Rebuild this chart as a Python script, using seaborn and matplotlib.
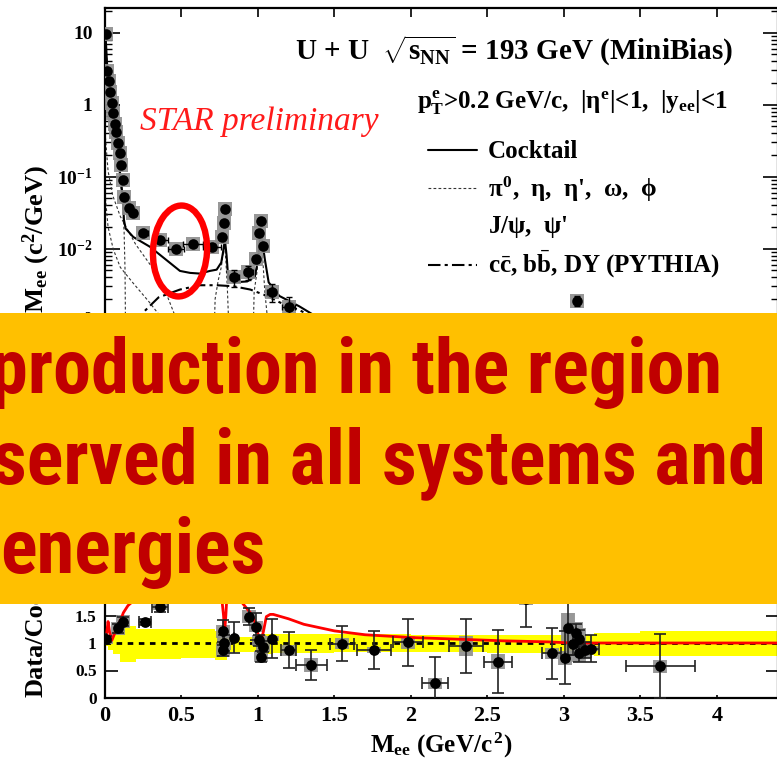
import numpy as np
import pandas as pd
import matplotlib
matplotlib.use("Agg")
import matplotlib.pyplot as plt
import seaborn as sns
from matplotlib.patches import Ellipse, Rectangle
from matplotlib.lines import Line2D
from matplotlib.ticker import FixedLocator, FixedFormatter, LogLocator, NullFormatter, MultipleLocator

# ---------------- dielectron mass spectrum (upper panel) ----------------
data_x = [0.005, 0.015, 0.025, 0.035, 0.045, 0.055, 0.065, 0.075, 0.085, 0.095,
          0.105, 0.115, 0.125, 0.155, 0.185, 0.25, 0.36, 0.465, 0.575, 0.70,
          0.765, 0.775, 0.785, 0.845, 0.937, 0.99, 1.01, 1.02, 1.035, 1.09, 1.2, 3.085]
data_y = [9.7, 2.9, 2.1, 1.5, 1.07, 0.77, 0.53, 0.41, 0.29, 0.21,
          0.147, 0.091, 0.052, 0.037, 0.031, 0.0166, 0.0131, 0.0100, 0.0117, 0.0106,
          0.0145, 0.023, 0.036, 0.0040, 0.0047, 0.0071, 0.0166, 0.0245, 0.011, 0.0025, 0.00155, 0.0019]
data_xerr = [0, 0, 0, 0, 0, 0, 0, 0, 0, 0,
             0, 0, 0, 0, 0, 0.03, 0.05, 0.05, 0.065, 0.06,
             0, 0, 0, 0.03, 0.03, 0, 0, 0, 0, 0.03, 0.04, 0]
data_yerr = [0.2, 0.06, 0.04, 0.03, 0.02, 0.015, 0.01, 0.008, 0.006, 0.004,
             0.003, 0.002, 0.0012, 0.001, 0.0008, 0.0006, 0.0006, 0.0005, 0.0006, 0.0006,
             0.0008, 0.001, 0.0015, 0.0011, 0.001, 0.0008, 0.001, 0.0012, 0.0008, 0.0007, 0.0006, 0.0003]

cocktail_x = [0.003, 0.007, 0.013, 0.025, 0.044, 0.06, 0.076, 0.09, 0.109, 0.118, 0.124, 0.135,
              0.185, 0.294, 0.403, 0.49, 0.556, 0.62, 0.686, 0.73, 0.76, 0.772, 0.784, 0.795,
              0.806, 0.84, 0.93, 0.98, 1.0, 1.012, 1.02, 1.03, 1.046, 1.07, 1.14, 1.27, 1.5,
              1.8, 2.1, 2.5, 2.9, 3.0, 3.06, 3.097, 3.13, 3.2, 3.6, 3.69, 3.8, 4.4]
cocktail_y = [9.0, 6.8, 3.8, 2.0, 1.17, 0.6, 0.32, 0.16, 0.072, 0.045, 0.025, 0.019,
              0.0145, 0.0106, 0.0069, 0.0049, 0.0046, 0.0045, 0.0049, 0.0051, 0.0064, 0.009, 0.0133, 0.008,
              0.0038, 0.0034, 0.0035, 0.0041, 0.0069, 0.013, 0.02, 0.012, 0.0069, 0.0034, 0.0022, 0.00158, 8e-4,
              4e-4, 2.2e-4, 1.1e-4, 6e-5, 6e-5, 3e-4, 1.1e-3, 2e-4, 4e-5, 2e-5, 4e-5, 1.5e-5, 4e-6]

pi0_x = [0.003, 0.01, 0.02, 0.04, 0.06, 0.08, 0.1, 0.115, 0.125, 0.131, 0.134, 0.135]
pi0_y = [8.5, 5.0, 2.4, 1.0, 0.5, 0.22, 0.085, 0.04, 0.017, 0.005, 0.0008, 1e-6]
eta_x = [0.003, 0.02, 0.05, 0.1, 0.2, 0.3, 0.4, 0.47, 0.52, 0.54, 0.547]
eta_y = [0.35, 0.12, 0.055, 0.028, 0.0115, 0.0058, 0.0024, 0.001, 3e-4, 5e-5, 1e-6]
omega_dalitz_x = [0.003, 0.02, 0.054, 0.1, 0.185, 0.29, 0.4, 0.5, 0.58, 0.63, 0.645]
omega_dalitz_y = [0.05, 0.02, 0.0098, 0.0055, 0.0033, 0.0018, 9e-4, 4.5e-4, 1.5e-4, 3e-5, 1e-6]
omega_x = [0.69, 0.72, 0.74, 0.76, 0.772, 0.782, 0.79, 0.80, 0.815, 0.84]
omega_y = [1e-5, 2e-3, 3.6e-3, 5.5e-3, 8.5e-3, 1.1e-2, 7e-3, 2.8e-3, 4e-4, 1e-5]
phi_x = [0.95, 0.975, 0.995, 1.01, 1.019, 1.03, 1.045, 1.06, 1.09]
phi_y = [1e-5, 2.5e-3, 5e-3, 1.2e-2, 1.8e-2, 8e-3, 2.5e-3, 1.2e-3, 1e-5]
jpsi_x = [2.7, 2.9, 3.0, 3.05, 3.097, 3.13, 3.2, 3.3]
jpsi_y = [1e-7, 3e-6, 2e-5, 2.5e-4, 1e-3, 1.5e-4, 5e-6, 1e-7]
psi2s_x = [3.5, 3.6, 3.686, 3.75, 3.85]
psi2s_y = [1e-7, 2e-6, 2.5e-5, 2e-6, 1e-7]
charm_x = [0.05, 0.15, 0.25, 0.35, 0.49, 0.62, 0.73, 0.84, 0.95, 1.06, 1.14, 1.27,
           1.5, 2.0, 2.5, 3.0, 3.5, 4.0, 4.4]
charm_y = [1e-4, 5e-4, 1.3e-3, 2.1e-3, 2.7e-3, 3.1e-3, 3.1e-3, 3.0e-3, 2.7e-3, 2.2e-3, 1.8e-3, 1.4e-3,
           8e-4, 3e-4, 1.2e-4, 5e-5, 2e-5, 9e-6, 5e-6]

y_tick_vals = [1e-5, 1e-4, 1e-3, 1e-2, 1e-1, 1, 10]
y_tick_text = [r"$10^{-5}$", r"$10^{-4}$", r"$10^{-3}$", r"$10^{-2}$", r"$10^{-1}$", "1", "10"]

# ---------------- data / cocktail ratio (lower panel) ----------------
ratio_x = [0.007, 0.087, 0.12, 0.26, 0.36, 0.773, 0.78, 0.77, 0.845, 0.94, 0.985, 1.01, 1.035, 1.02,
           1.09, 1.20, 1.35, 1.55, 1.76, 1.98, 2.16, 2.36, 2.57, 2.75, 2.92, 3.01, 3.03, 3.06, 3.08,
           3.10, 3.10, 3.14, 3.18, 3.63]
ratio_y = [1.07, 1.27, 1.39, 1.38, 1.66, 1.21, 1.0, 0.87, 1.10, 1.48, 1.30, 1.05, 0.93, 0.75,
           1.08, 0.87, 0.60, 0.99, 0.87, 1.01, 0.27, 0.95, 0.66, 1.80, 0.81, 0.73, 1.28, 0.99, 1.19,
           1.08, 0.81, 0.87, 0.90, 0.58]
ratio_yerr = [0.05, 0.08, 0.08, 0.05, 0.1, 0.2, 0.15, 0.1, 0.28, 0.15, 0.25, 0.1, 0.1, 0.1,
              0.36, 0.33, 0.28, 0.32, 0.34, 0.43, 0.48, 0.49, 0.57, 0.5, 0.46, 0.48, 0.5, 0.2, 0.15,
              0.15, 0.15, 0.15, 0.24, 0.58]
ratio_xerr = [0, 0, 0, 0.04, 0.05, 0, 0, 0, 0, 0, 0, 0, 0, 0,
              0, 0.05, 0.1, 0.08, 0.11, 0.1, 0.085, 0.11, 0.094, 0, 0.06, 0, 0, 0, 0,
              0, 0, 0, 0.05, 0.225]
ratio_sys = [0.08, 0.12, 0.12, 0.06, 0.06, 0.12, 0.12, 0.12, 0.0, 0.12, 0.1, 0.1, 0.1, 0.1,
             0.05, 0.1, 0.13, 0.1, 0.05, 0.12, 0.1, 0.18, 0.14, 0.1, 0.1, 0.13, 0.27, 0.2, 0.2,
             0.2, 0.15, 0.15, 0.05, 0.12]

model_x = [0.0, 0.01, 0.02, 0.03, 0.045, 0.06, 0.08, 0.1, 0.12, 0.15, 0.2, 0.3, 0.5, 0.7, 0.76,
           0.775, 0.782, 0.79, 0.8, 0.85, 0.9, 0.95, 0.985, 1.005, 1.02, 1.035, 1.055, 1.08, 1.1,
           1.2, 1.3, 1.5, 1.7, 2.0, 2.3, 2.6, 2.9, 3.05, 3.2, 3.6, 4.4]
model_y = [1.05, 1.15, 1.39, 1.20, 1.05, 1.15, 1.30, 1.40, 1.55, 1.68, 1.8, 1.9, 2.0, 2.1, 1.9,
           1.5, 1.2, 1.5, 2.0, 1.9, 1.72, 1.55, 1.36, 1.1, 1.05, 1.2, 1.48, 1.52, 1.52,
           1.44, 1.34, 1.22, 1.15, 1.10, 1.07, 1.04, 1.02, 1.0, 1.0, 1.0, 1.0]

band_x = [0.0, 0.02, 0.05, 0.1, 0.2, 0.5, 0.72, 0.8, 1.0, 1.1, 1.5, 2.0, 2.5, 3.0, 3.2, 3.5, 4.4]
band_lo = [0.94, 0.88, 0.80, 0.66, 0.71, 0.72, 0.69, 0.84, 0.80, 0.82, 0.84, 0.84, 0.82, 0.79, 0.77, 0.76, 0.76]
band_hi = [1.07, 1.12, 1.25, 1.31, 1.26, 1.25, 1.21, 1.11, 1.17, 1.16, 1.16, 1.15, 1.15, 1.15, 1.19, 1.22, 1.22]

ratio_tick_vals = [0, 0.5, 1, 1.5, 2]
ratio_tick_text = ["0", "0.5", "1", "1.5", "2"]

banner_lines = ["production in the region", "served in all systems and", "energies"]

# ---------------- style ----------------
sns.set_theme(style="ticks")
plt.rcParams["font.family"] = ["Liberation Serif", "DejaVu Serif"]
plt.rcParams["font.weight"] = "bold"
plt.rcParams["mathtext.fontset"] = "custom"
plt.rcParams["mathtext.rm"] = "Liberation Serif:bold"
plt.rcParams["mathtext.it"] = "Liberation Serif:bold"
plt.rcParams["mathtext.bf"] = "Liberation Serif:bold"
plt.rcParams["axes.edgecolor"] = "black"
plt.rcParams["xtick.color"] = "black"
plt.rcParams["ytick.color"] = "black"
plt.rcParams["text.color"] = "black"

W, H = 777, 761
fig = plt.figure(figsize=(W / 100, H / 100), dpi=100)
fig.patch.set_facecolor("white")


def fx(px):
    return px / W


def fy(py):
    return 1 - py / H


# upper panel: 10 at y=33 px, 72 px per decade
top_log = 1.342
ax1 = fig.add_axes([fx(105), fy(464.6), 673 / W, (464.6 - 8) / H])
# lower panel: y=0 at 698 px, 55 px per unit
ax2 = fig.add_axes([fx(105), fy(698), 673 / W, 132 / H])

for ax in (ax1, ax2):
    ax.set_facecolor("white")
    for s in ax.spines.values():
        s.set_linewidth(1.6)
        s.set_color("black")

comp_style = dict(color="#333333", lw=0.8, linestyle=(0, (2.5, 2)))
charm_style = dict(color="black", lw=1.5, linestyle=(0, (6, 2, 1.5, 2)))

for cx, cy in [(pi0_x, pi0_y), (eta_x, eta_y), (omega_dalitz_x, omega_dalitz_y),
               (omega_x, omega_y), (phi_x, phi_y), (jpsi_x, jpsi_y), (psi2s_x, psi2s_y)]:
    sns.lineplot(x=cx, y=cy, ax=ax1, estimator=None, sort=False, zorder=2, **comp_style)
sns.lineplot(x=charm_x, y=charm_y, ax=ax1, estimator=None, sort=False, zorder=2, **charm_style)
sns.lineplot(x=cocktail_x, y=cocktail_y, ax=ax1, estimator=None, sort=False,
             color="black", lw=1.5, zorder=3)

spec = pd.DataFrame({"m": data_x, "y": data_y})
sns.scatterplot(data=spec, x="m", y="y", ax=ax1, marker="s", s=110, color="#8d8d8d",
                alpha=0.9, linewidth=0, zorder=4)
ax1.errorbar(data_x, data_y, xerr=data_xerr, yerr=data_yerr, fmt="none", ecolor="black",
             elinewidth=1.0, capsize=2.5, capthick=1.0, zorder=5)
sns.scatterplot(data=spec, x="m", y="y", ax=ax1, marker="o", s=58, color="black",
                linewidth=0, zorder=6)

ax1.set_yscale("log")
ax1.set_xlim(0, 4.4)
ax1.set_ylim(1e-5, 10 ** top_log)
ax1.set_xlabel("")
ax1.set_ylabel("")
ax1.yaxis.set_major_locator(FixedLocator(y_tick_vals))
ax1.yaxis.set_major_formatter(FixedFormatter(y_tick_text))
ax1.yaxis.set_minor_locator(LogLocator(base=10, subs=np.arange(2, 10)))
ax1.yaxis.set_minor_formatter(NullFormatter())
ax1.xaxis.set_major_locator(MultipleLocator(0.5))
ax1.tick_params(axis="y", which="major", direction="in", length=11, width=1.2,
                left=True, right=True, labelsize=14, pad=9)
ax1.tick_params(axis="y", which="minor", direction="in", length=5, width=1.0, left=True, right=True)
ax1.tick_params(axis="x", which="major", direction="in", length=6.5, width=1.2,
                top=True, bottom=True, labelbottom=False)

# ratio panel
ax2.fill_between(band_x, band_lo, band_hi, step="post", color="#ffff00", linewidth=0, zorder=1)
ax2.axhline(1.0, color="black", lw=2.0, linestyle=(0, (2, 2)), zorder=2)
ax2.errorbar(ratio_x, ratio_y, yerr=ratio_sys, fmt="none", ecolor="#8d8d8d", elinewidth=10,
             capsize=0, alpha=0.9, zorder=3)
sns.lineplot(x=model_x, y=model_y, ax=ax2, estimator=None, sort=False, color="#ff0000",
             lw=2.0, zorder=4)
ax2.errorbar(ratio_x, ratio_y, xerr=ratio_xerr, yerr=ratio_yerr, fmt="none", ecolor="#222222",
             elinewidth=1.2, capsize=4, capthick=1.2, zorder=5)
ratio_df = pd.DataFrame({"m": ratio_x, "r": ratio_y})
sns.scatterplot(data=ratio_df, x="m", y="r", ax=ax2, marker="o", s=60, color="black",
                linewidth=0, zorder=6)
ax2.set_xlim(0, 4.4)
ax2.set_ylim(0, 2.4)
ax2.set_xlabel("")
ax2.set_ylabel("")
ax2.yaxis.set_major_locator(FixedLocator(ratio_tick_vals))
ax2.yaxis.set_major_formatter(FixedFormatter(ratio_tick_text))
ax2.xaxis.set_major_locator(MultipleLocator(0.5))
ax2.xaxis.set_major_formatter(matplotlib.ticker.FuncFormatter(lambda v, p: f"{v:g}"))
ax2.tick_params(axis="y", which="major", direction="in", length=9, width=1.2,
                left=True, right=True, labelsize=12.5, pad=6)
ax2.tick_params(axis="x", which="major", direction="in", length=2.2, width=1.2,
                top=True, bottom=True, labelsize=16, pad=6)

# axis titles
fig.text(fx(36), fy(165), r"dN/dM$_{ee}$ (c$^{2}$/GeV)", rotation=90, rotation_mode="anchor",
         ha="right", va="center", fontsize=19, fontweight="bold")
fig.text(fx(36), fy(697), "Data/Cocktail", rotation=90, rotation_mode="anchor",
         ha="left", va="center", fontsize=19, fontweight="bold")
fig.text(fx(441), fy(745), r"M$_{ee}$ (GeV/c$^{\,2}$)", ha="center", va="center",
         fontsize=18, fontweight="bold")

# header and legend
fig.text(fx(295), fy(60), r"U + U  $\sqrt{s_{NN}}$ = 193 GeV (MiniBias)", fontsize=21,
         fontweight="bold", ha="left", va="baseline")
fig.text(fx(140), fy(130), "STAR preliminary", fontsize=24, fontstyle="italic",
         fontweight="normal", color="#ff1a1a", ha="left", va="baseline")
fig.text(fx(417), fy(108), r"$p_T^e$>0.2 GeV/c,  |$\eta^e$|<1,  |$y_{ee}$|<1", fontsize=18,
         fontweight="bold", ha="left", va="baseline")

legend_rows = [
    (158, "Cocktail", 150, dict(color="black", lw=1.5, linestyle="-")),
    (197, r"$\pi^0$,  $\eta$,  $\eta$',  $\omega$,  $\phi$", 188, comp_style),
    (233, r"J/$\psi$,  $\psi$'", None, None),
    (273, r"c$\bar{c}$, b$\bar{b}$, DY (PYTHIA)", 265, charm_style),
]
for base_y, label, line_y, style in legend_rows:
    fig.text(fx(488), fy(base_y), label, fontsize=18, fontweight="bold", ha="left", va="baseline")
    if style is not None:
        fig.add_artist(Line2D([fx(428), fx(477)], [fy(line_y), fy(line_y)],
                              transform=fig.transFigure, **style))

# highlight ring around the intermediate-mass region
ring = Ellipse((180 / 100, (H - 251) / 100), 0.54, 0.91, angle=-3,
               transform=fig.dpi_scale_trans, fill=False, edgecolor="#ff0000", lw=4.6, zorder=8)
fig.add_artist(ring)

# orange banner with statement
banner = Rectangle((0, fy(604)), 1, (604 - 313) / H, transform=fig.transFigure,
                   facecolor="#ffc000", edgecolor="none", zorder=10)
fig.add_artist(banner)
banner_family = ["Liberation Sans Narrow", "Roboto Condensed", "Lato", "Liberation Sans"]
banner_texts = []
for (xp, yp), line in zip([(-10, 393), (-8, 483), (0, 573)], banner_lines):
    banner_texts.append(fig.text(fx(xp), fy(yp), line, fontsize=46, fontweight="heavy",
                                 color="#c00000", family=banner_family, ha="left",
                                 va="baseline", zorder=11))

# scale the statement so its lines span the same width as on the slide
renderer = fig.canvas.get_renderer()
target_widths = [735, 770]
scales = [tw / banner_texts[i].get_window_extent(renderer).width for i, tw in enumerate(target_widths)]
size = 46 * float(np.mean(scales))
for t in banner_texts:
    t.set_fontsize(size)

fig.savefig("out.png", dpi=100, facecolor="white")
